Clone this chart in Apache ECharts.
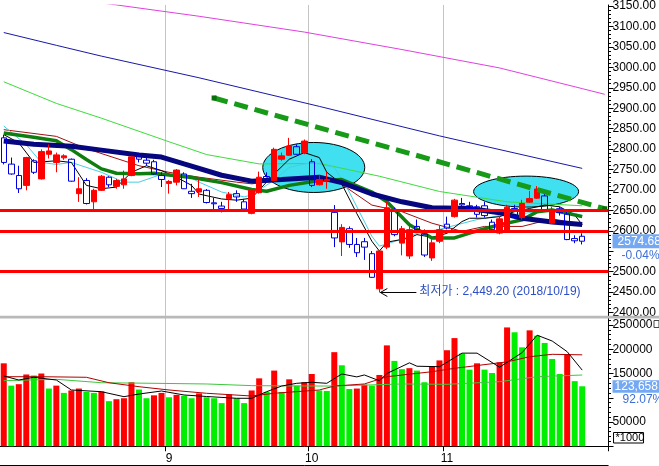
<!DOCTYPE html>
<html><head><meta charset="utf-8">
<script src="https://cdn.jsdelivr.net/npm/echarts@6/dist/echarts.min.js"></script>
<style>html,body{margin:0;padding:0;background:#fff}#c{width:659px;height:466px}</style>
</head><body><div id="c"></div>
<script>
// ---------------- data ----------------
const SLOTS = 81; // 78 trading days + 3 empty slots on the right
const categories = Array.from({length: SLOTS}, (_, i) => 'D' + (i + 1));
const monthStarts = [22, 41, 59];
const monthNames = ['9', '10', '11'];

const opens = [2827.5,2763.2,2735.3,2711.2,2771.4,2727.1,2787.3,2767.3,2778.6,2775.2,
 2691.0,2723.2,2671.0,2699.1,2731.2,2708.8,2712.6,2735.3,2783.4,2772.8,
 2769.0,2735.3,2716.0,2719.1,2739.1,2696.7,2695.0,2699.1,2668.6,2660.6,
 2678.9,2691.0,2671.0,2642.8,2693.4,2732.9,2723.2,2775.2,2784.9,2805.8,
 2791.4,2769.0,2712.6,2722.3,2645.2,2573.0,2605.2,2566.7,2573.4,2544.1,
 2458.3,2560.2,2651.0,2570.0,2538.5,2610.8,2592.2,2533.7,2574.6,2616.3,
 2634.8,2666.9,2661.3,2658.9,2661.3,2621.1,2594.6,2598.0,2654.8,2632.4,
 2670.2,2679.9,2685.4,2618.7,2654.1,2640.9,2581.1,2586.7];
const closes = [2767.3,2739.1,2703.0,2779.3,2743.2,2793.8,2795.5,2785.8,2783.4,2721.5,
 2703.0,2666.9,2699.1,2733.6,2712.6,2723.2,2727.1,2781.0,2775.2,2765.6,
 2739.1,2725.6,2720.8,2748.7,2703.0,2691.0,2703.0,2669.3,2666.2,2654.8,
 2688.5,2683.0,2653.4,2699.1,2731.2,2725.6,2799.3,2783.4,2807.5,2787.3,
 2819.5,2711.2,2725.6,2725.6,2582.6,2608.4,2566.7,2546.5,2560.2,2486.3,
 2550.6,2656.5,2590.8,2605.2,2602.8,2602.8,2540.9,2570.6,2602.8,2606.7,
 2675.1,2663.7,2654.8,2640.4,2637.3,2602.8,2629.3,2657.7,2634.8,2666.9,
 2678.9,2702.3,2651.7,2651.0,2644.5,2578.7,2575.7,2574.68];
const lows = [2762.5,2737.2,2692.6,2699.1,2739.1,2725.6,2776.9,2743.2,2773.8,2720.3,
 2671.0,2664.5,2653.4,2697.5,2707.1,2703.0,2703.0,2733.6,2767.3,2759.3,
 2736.7,2707.1,2691.0,2711.2,2702.3,2680.6,2683.0,2666.9,2653.4,2645.2,
 2653.4,2671.0,2651.7,2640.4,2691.0,2720.8,2721.5,2771.4,2783.4,2786.6,
 2787.3,2707.1,2711.2,2703.0,2560.2,2538.5,2558.5,2536.1,2528.9,2484.8,
 2449.2,2555.4,2586.7,2540.0,2531.3,2598.7,2536.1,2526.5,2569.8,2603.5,
 2632.4,2646.9,2646.9,2632.4,2632.4,2598.7,2591.5,2596.3,2630.0,2627.6,
 2668.6,2678.2,2646.9,2616.8,2637.3,2577.1,2569.8,2566.7];
const highs = [2834.7,2779.3,2759.3,2781.0,2775.2,2799.3,2811.4,2791.4,2787.3,2776.9,
 2731.2,2728.8,2703.0,2736.7,2733.6,2727.1,2747.3,2783.4,2789.7,2780.3,
 2773.8,2743.2,2724.0,2751.1,2743.2,2715.0,2727.1,2702.3,2680.6,2671.0,
 2695.0,2699.1,2678.2,2700.6,2744.9,2743.2,2803.4,2791.4,2827.5,2811.4,
 2823.4,2775.2,2736.0,2744.9,2663.0,2616.3,2610.8,2582.6,2582.6,2550.6,
 2553.0,2671.0,2656.5,2612.0,2618.0,2627.6,2603.5,2579.5,2613.2,2634.8,
 2678.2,2680.6,2671.0,2663.7,2671.0,2627.6,2634.8,2663.7,2663.7,2675.8,
 2697.5,2709.5,2695.0,2658.9,2658.9,2649.3,2589.1,2594.0];
const volumes = [171000,125000,128000,148000,146000,150000,119000,125000,110000,115000,
 119000,112000,110000,113000,93000,97000,99000,132000,117000,99000,
 105000,110000,101000,106000,104000,99000,109000,101000,99000,89000,
 107000,99000,89000,115000,140000,112000,156000,112000,138000,125000,
 132000,149000,115000,114000,194000,167000,118000,119000,127000,125000,
 147000,208000,176000,159000,161000,156000,132000,165000,177000,198000,
 223000,191000,158000,171000,158000,151000,173000,245000,235000,204000,
 239000,228000,213000,180000,149000,190000,134309,123658];

// moving-average lines: [dayIndex, value]
const maMagenta = [[10,3165],[15,3152.6],[26,3124.9],[40,3086.3],[53,3043.5],[66,2998.5],[77,2947.9],[80,2934]];
const maNavyThin = [[0,3085.1],[7,3053.8],[13,3027.4],[26,2974.4],[42,2904.5],[58,2832.3],[77,2752.8]];
const maLightGreen = [[0,2964.7],[7,2911.8],[13,2875.6],[22,2817.9],[27,2786.6],[34,2763.7],[42,2764.9],[50,2733.6],[58,2696.3],[67,2671],[77,2661.3]];
const maNavyThick = [[0,2819.5],[4,2811.8],[9,2807],[13,2797.4],[18,2785.3],[21,2780.5],[24,2763.7],[29,2736],[33,2721.5],[37,2725.6],[42,2731.2],[45,2717.9],[49,2690.2],[53,2671],[57,2656.5],[62,2654.8],[66,2644.5],[69,2630.8],[73,2621.6],[77,2615.6]];
const maGreenThick = [[0,2839.5],[4,2828.7],[7,2820.3],[9,2798.6],[11,2774.5],[13,2751.6],[15,2740.8],[18,2739.6],[20,2740.8],[22,2736.7],[25,2730.4],[29,2717.9],[33,2701.1],[35,2696.7],[38,2711.2],[42,2723.2],[45,2725.6],[49,2695],[51,2671],[54,2614.9],[57,2582.6],[60,2582.6],[62,2594.6],[66,2614.9],[69,2626.9],[71,2646.9],[73,2651],[77,2634.8]];
const maBrown = [[0,2847.5],[7,2831.1],[11,2801],[18,2759.3],[22,2743.2],[26,2731.2],[31,2719.1],[33,2715],[35,2719.1],[40,2731.2],[44,2726.4],[49,2663],[53,2646.9],[57,2618.7],[61,2598.7],[64,2610.8],[69,2610.8],[73,2629.3],[77,2616.3]];
const maCyan = [[0,2856.4],[3,2810.6],[5,2767.3],[7,2762.5],[9,2767.3],[13,2743.2],[16,2719.1],[18,2719.1],[21,2738.4],[24,2738.4],[26,2719.1],[29,2695],[32,2683],[33,2687.8],[36,2723.9],[38,2755.2],[41,2767.3],[44,2755.2],[46,2695],[49,2586.7],[50,2562.6],[53,2579.5],[55,2593.9],[58,2603.5],[61,2618],[63,2627.6],[66,2637.3],[69,2642.1],[71,2646.9],[74,2651.7],[77,2638]];
const maBlack = [[0,2835.4],[2,2815.4],[4,2767.3],[7,2771.4],[9,2767.3],[11,2711.2],[13,2703],[15,2707.1],[17,2743.2],[19,2759.3],[21,2747.3],[23,2731.2],[25,2711.2],[26,2690],[29,2678],[31,2675],[33,2680],[34,2700],[36,2739.1],[38,2775.2],[40,2791.4],[42,2779.3],[43,2743.2],[45,2714.3],[47,2642.1],[49,2574.6],[50,2550.6],[51,2572.2],[54,2582.6],[55,2590.8],[57,2584.3],[59,2593.9],[61,2622.8],[62,2630.8],[64,2630.8],[66,2634.8],[68,2646.9],[70,2654.8],[72,2663],[74,2658.9],[76,2638.9],[77,2614.9]];
const trendLine = [[28,2925],[80,2654]];
const supportLevels = [2650, 2600, 2500];

const volBlack = [[0,144900],[2,136600],[4,142200],[7,136600],[9,116000],[13,112500],[16,102200],[18,107700],[21,113900],[24,105700],[27,102600],[31,98900],[33,98900],[35,112500],[37,124200],[39,129800],[41,131900],[43,129800],[45,149000],[47,143000],[48,147000],[50,135000],[51,150000],[54,172000],[55,165000],[58,164000],[61,192000],[63,192000],[66,163000],[69,193000],[71,229000],[73,217000],[75,195000],[77,157000]];
const volRed = [[0,143400],[5,143400],[11,142200],[14,131000],[18,122800],[22,116000],[27,109200],[33,103600],[36,109200],[42,116000],[44,124200],[48,128400],[51,143400],[57,153700],[60,160700],[67,174000],[70,184600],[73,189600],[77,188500]];
const volGreen = [[0,135200],[7,138000],[13,131000],[20,129800],[27,128400],[33,125000],[40,124200],[44,124200],[53,128400],[59,127700],[66,133100],[71,143400],[77,146900]];

const priceLabels = [2400,2450,2500,2600,2650,2700,2750,2800,2850,2900,2950,3000,3050,3100,3150];
const volLabels = [50000,150000,200000,250000];
const lowPoint = {index: 50, value: 2449.2, text: '최저가 : 2,449.20 (2018/10/19)'};

// ---------------- chart ----------------
const FONT = "'Liberation Sans', Arial, 'Noto Sans CJK KR', sans-serif";
const priceMajorTicks = [], priceMinorTicks = [], volMajorTicks = [], volMinorTicks = [];
for (let v = 2400; v <= 3150; v += 50) priceMajorTicks.push(v);
for (let v = 2390; v <= 3150; v += 10) priceMinorTicks.push(v);
for (let v = 0; v <= 250000; v += 50000) volMajorTicks.push(v);
for (let v = 0; v <= 260000; v += 10000) volMinorTicks.push(v);

const candleData = opens.map((o, i) => [o, closes[i], lows[i], highs[i]]);
const isMonth = (i) => monthStarts.indexOf(i) >= 0;

const chart = echarts.init(document.getElementById('c'));
const line = (data, color, width, z) => ({
  type: 'line', xAxisIndex: 0, yAxisIndex: 0, data, showSymbol: false, symbol: 'none',
  lineStyle: {color, width}, z: z || 2, silent: true
});
const vline = (data, color) => ({
  type: 'line', xAxisIndex: 1, yAxisIndex: 2, data, showSymbol: false, symbol: 'none',
  lineStyle: {color, width: 1}, z: 4, silent: true
});

const option = {
  animation: false,
  backgroundColor: '#ffffff',
  textStyle: {fontFamily: FONT},
  grid: [
    {left: -3.3, right: 50.5, top: 0, height: 317},
    {left: -3.3, right: 50.5, top: 318, height: 128.25}
  ],
  xAxis: [
    {type: 'category', gridIndex: 0, data: categories, boundaryGap: true,
     axisLine: {show: false}, axisTick: {show: false}, axisLabel: {show: false},
     splitLine: {show: true, interval: (i) => isMonth(i), lineStyle: {color: '#c4c4c4', width: 1}}},
    {type: 'category', gridIndex: 1, data: categories, boundaryGap: true,
     axisLine: {show: true, lineStyle: {color: '#000', width: 1}},
     axisTick: {show: true, interval: (i) => isMonth(i), length: 5, lineStyle: {color: '#000'}},
     axisLabel: {show: true, interval: (i) => isMonth(i), margin: 6, color: '#000', fontSize: 12,
       formatter: (v, i) => { const k = monthStarts.indexOf(i); return k >= 0 ? monthNames[k] : ''; }},
     splitLine: {show: true, interval: (i) => isMonth(i), lineStyle: {color: '#c4c4c4', width: 1}}}
  ],
  yAxis: [
    {type: 'value', gridIndex: 0, position: 'right', min: 2389.24, max: 3152.55, scale: true,
     splitLine: {show: false},
     axisLine: {show: true, lineStyle: {color: '#000', width: 1}},
     axisTick: {show: true, customValues: priceMajorTicks, length: 5, lineStyle: {color: '#000'}},
     axisLabel: {show: true, customValues: priceLabels, formatter: (v) => Number(v).toFixed(2),
       color: '#000', fontSize: 12, margin: 4}},
    {type: 'value', gridIndex: 0, position: 'right', min: 2389.24, max: 3152.55, scale: true,
     splitLine: {show: false}, axisLine: {show: false},
     axisTick: {show: true, customValues: priceMinorTicks, length: 2.5, lineStyle: {color: '#000'}},
     axisLabel: {show: false}},
    {type: 'value', gridIndex: 1, position: 'right', min: 0, max: 264450,
     splitLine: {show: false},
     axisLine: {show: true, lineStyle: {color: '#000', width: 1}},
     axisTick: {show: true, customValues: volMajorTicks, length: 5, lineStyle: {color: '#000'}},
     axisLabel: {show: true, customValues: volLabels, formatter: (v) => String(v),
       color: '#000', fontSize: 12, margin: 4}},
    {type: 'value', gridIndex: 1, position: 'right', min: 0, max: 264450,
     splitLine: {show: false}, axisLine: {show: false},
     axisTick: {show: true, customValues: volMinorTicks, length: 2.5, lineStyle: {color: '#000'}},
     axisLabel: {show: false}}
  ],
  series: [
    line(maMagenta, '#e040e0', 1),
    line(maNavyThin, '#1818a8', 1),
    line(maLightGreen, '#3ddc3d', 1),
    line(maBrown, '#a01010', 1),
    line(maCyan, '#40d0e4', 1),
    line(maBlack, '#000000', 1),
    line(maGreenThick, '#0f7d0f', 3.5),
    line(maNavyThick, '#06067e', 5),
    {type: 'candlestick', xAxisIndex: 0, yAxisIndex: 0, data: candleData, barWidth: 6, z: 3,
     itemStyle: {color: '#ff0000', color0: 'rgba(0,0,0,0)', borderColor: '#ff0000', borderColor0: '#0000dd', borderWidth: 1},
     markLine: {silent: true, symbol: ['none', 'none'], z: 6, label: {show: false},
       lineStyle: {color: '#ff0000', width: 3, type: 'solid'},
       data: supportLevels.map(v => ({yAxis: v}))}},
    {type: 'line', xAxisIndex: 0, yAxisIndex: 0, data: trendLine, z: 5, silent: true,
     showSymbol: true, symbol: 'rect', symbolSize: [5, 5],
     itemStyle: {color: '#0b6e0b'},
     lineStyle: {color: '#179a17', width: 5, type: [14, 7]}},
    {type: 'bar', xAxisIndex: 1, yAxisIndex: 2, data: volumes, barWidth: 6, z: 2, silent: true,
     itemStyle: {color: (p) => (p.dataIndex === 0 || volumes[p.dataIndex] > volumes[p.dataIndex - 1]) ? '#ff0000' : '#00ee00'}},
    vline(volGreen, '#3cc83c'),
    vline(volRed, '#b00000'),
    vline(volBlack, '#000000')
  ]
};
chart.setOption(option);

// ---------------- annotations anchored to data ----------------
const P = (idx, val) => chart.convertToPixel({xAxisIndex: 0, yAxisIndex: 0}, [idx, val]);
const V = (idx, val) => chart.convertToPixel({xAxisIndex: 1, yAxisIndex: 2}, [idx, val]);
const e1 = P(41, 2755), e2 = P(69, 2696);
const low = P(lowPoint.index, lowPoint.value);
const last = closes.length - 1;
const lastP = P(last, closes[last]);
const chg = (closes[last] / closes[last - 1] - 1) * 100;
const lastV = V(last, volumes[last]);
const vRatio = volumes[last] / volumes[last - 1] * 100;
const axisX = chart.convertToPixel({xAxisIndex: 0, yAxisIndex: 0}, [SLOTS - 1, 2500])[0] + 3.8;
const T = (x, y, text, fill, size, align) => ({type: 'text', z: 100, silent: true,
  style: {x, y, text, fill, font: (size || 12) + 'px ' + FONT, textAlign: align || 'left', textVerticalAlign: 'middle'}});

chart.setOption({graphic: {elements: [
  {type: 'ellipse', z: 1, silent: true, shape: {cx: e1[0] + 2, cy: e1[1], rx: 51, ry: 25},
   style: {fill: '#40e0f0', stroke: '#000', lineWidth: 1}},
  {type: 'ellipse', z: 1, silent: true, shape: {cx: e2[0] + 4, cy: e2[1], rx: 52.5, ry: 15.5},
   style: {fill: '#40e0f0', stroke: '#000', lineWidth: 1}},
  {type: 'rect', z: 50, silent: true, shape: {x: 0, y: 315.8, width: 659, height: 2.6}, style: {fill: '#b9b9b9'}},
  {type: 'line', z: 50, silent: true, shape: {x1: 0, y1: 465.5, x2: axisX, y2: 465.5}, style: {stroke: '#000', lineWidth: 1}},
  // lowest price arrow + label
  {type: 'polyline', z: 60, silent: true, shape: {points: [[low[0] + 1, low[1]], [low[0] + 37, low[1]]]}, style: {stroke: '#000', lineWidth: 1, fill: null}},
  {type: 'polyline', z: 60, silent: true, shape: {points: [[low[0] + 8, low[1] - 4], [low[0] + 1, low[1]], [low[0] + 8, low[1] + 4]]}, style: {stroke: '#000', lineWidth: 1, fill: null}},
  T(low[0] + 40, low[1] - 1, lowPoint.text, '#2d4fc4', 12),
  // last price box
  {type: 'rect', z: 90, silent: true, shape: {x: axisX + 4, y: lastP[1] - 7, width: 60, height: 14}, style: {fill: '#74a8f2'}},
  T(axisX + 9, lastP[1], closes[last].toFixed(2), '#ffffff', 12),
  T(axisX + 13, lastP[1] + 14, chg.toFixed(2) + '%', '#3d6fd6', 12),
  // last volume box
  {type: 'rect', z: 90, silent: true, shape: {x: axisX + 4, y: lastV[1] - 6, width: 60, height: 12.5}, style: {fill: '#74a8f2'}},
  T(axisX + 6, lastV[1], volumes[last].toLocaleString('en-US') + 'K', '#ffffff', 12),
  T(axisX + 14, lastV[1] + 13, vRatio.toFixed(2) + '%', '#3d6fd6', 12),
  {type: 'rect', z: 90, silent: true, shape: {x: axisX + 5, y: 432.5, width: 30, height: 10.5}, style: {fill: '#fff', stroke: '#000', lineWidth: 1}},
  T(axisX + 7, 438, '*1000', '#000', 11),
  {type: 'rect', z: 90, silent: true, shape: {x: 654, y: 320.5, width: 5, height: 7}, style: {fill: '#fff', stroke: '#444', lineWidth: 1}}
]}});
</script></body></html>
